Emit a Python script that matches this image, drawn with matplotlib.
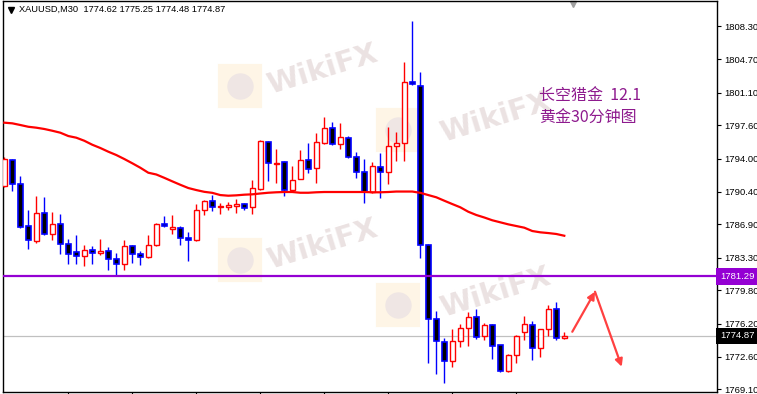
import numpy as np
import matplotlib
matplotlib.use('Agg')
import matplotlib.pyplot as plt

# XAUUSD M30 bars
opens = [1791.04, 1793.84, 1791.25, 1786.72, 1785.10, 1788.12, 1785.86, 1786.94, 1784.78, 1783.91,
         1783.48, 1784.13, 1783.81, 1784.02, 1783.16, 1782.62, 1784.56, 1783.70, 1783.37, 1784.67,
         1786.94, 1786.45, 1786.50, 1785.42, 1785.21, 1788.45, 1789.42, 1788.74, 1788.80, 1788.85,
         1789.09, 1788.77, 1790.71, 1795.78, 1793.46, 1793.63, 1790.60, 1791.79, 1793.84, 1792.98,
         1795.68, 1797.29, 1795.57, 1796.21, 1794.17, 1792.55, 1790.39, 1793.09, 1792.55, 1795.35,
         1795.68, 1802.26, 1801.83, 1784.67, 1776.68, 1774.20, 1772.15, 1774.31, 1775.71, 1776.90,
         1774.85, 1776.04, 1773.88, 1771.07, 1772.80, 1775.28, 1776.04, 1773.56, 1775.61, 1777.76,
         1774.62]
highs = [1794.17, 1793.95, 1792.11, 1788.45, 1789.96, 1789.85, 1788.23, 1788.01, 1785.32, 1785.75,
         1784.67, 1784.56, 1785.32, 1784.45, 1783.81, 1785.21, 1784.67, 1784.02, 1785.75, 1787.00,
         1787.80, 1787.91, 1786.72, 1786.07, 1789.09, 1789.53, 1790.06, 1789.20, 1789.31, 1789.63,
         1789.20, 1791.68, 1796.00, 1795.89, 1795.03, 1793.70, 1793.19, 1794.92, 1795.68, 1796.75,
         1798.48, 1797.94, 1797.83, 1796.43, 1794.70, 1793.95, 1793.63, 1794.60, 1797.40, 1796.86,
         1804.42, 1808.84, 1803.34, 1784.78, 1777.55, 1774.63, 1775.61, 1776.15, 1777.44, 1777.76,
         1776.25, 1776.10, 1773.93, 1772.91, 1774.96, 1777.01, 1776.47, 1775.65, 1778.20, 1778.52,
         1775.25]
lows = [1790.93, 1790.50, 1786.55, 1784.24, 1784.89, 1785.80, 1785.21, 1783.70, 1782.62, 1782.62,
        1782.40, 1782.62, 1783.59, 1781.97, 1781.30, 1781.97, 1782.73, 1782.51, 1783.30, 1784.60,
        1786.61, 1785.86, 1784.67, 1782.94, 1785.10, 1787.91, 1788.34, 1788.01, 1788.45, 1788.12,
        1788.45, 1788.01, 1790.66, 1791.58, 1791.36, 1789.96, 1790.39, 1791.74, 1792.44, 1791.36,
        1795.57, 1795.51, 1795.03, 1794.06, 1791.90, 1789.20, 1790.33, 1789.74, 1791.25, 1793.73,
        1793.73, 1801.99, 1783.27, 1771.94, 1770.75, 1769.78, 1771.51, 1773.66, 1773.77, 1774.53,
        1774.42, 1772.37, 1770.97, 1770.97, 1771.94, 1774.42, 1772.26, 1772.58, 1774.85, 1774.42,
        1774.48]
closes = [1793.95, 1791.25, 1786.61, 1785.21, 1788.12, 1785.86, 1786.94, 1784.78, 1783.70, 1783.48,
          1784.13, 1783.81, 1784.02, 1783.16, 1782.62, 1784.56, 1783.70, 1783.37, 1784.67, 1786.94,
          1786.72, 1786.61, 1785.42, 1785.21, 1788.45, 1789.42, 1788.77, 1788.88, 1788.99, 1789.09,
          1788.69, 1790.82, 1795.89, 1793.52, 1793.52, 1790.60, 1791.68, 1793.84, 1792.87, 1795.78,
          1797.29, 1795.57, 1796.32, 1794.17, 1792.55, 1790.39, 1793.19, 1792.55, 1795.35, 1795.68,
          1802.26, 1802.04, 1784.67, 1776.68, 1774.31, 1772.15, 1774.31, 1775.71, 1776.90, 1774.74,
          1776.04, 1773.77, 1771.07, 1772.80, 1774.85, 1776.15, 1773.56, 1775.61, 1777.76, 1774.63,
          1774.87]
# moving average line
ma = [1797.87, 1797.80, 1797.62, 1797.43, 1797.33, 1797.19, 1797.00, 1796.79, 1796.43, 1796.25,
      1795.92, 1795.49, 1795.14, 1794.74, 1794.38, 1793.95, 1793.49, 1793.01, 1792.47, 1792.28,
      1791.92, 1791.54, 1791.17, 1790.82, 1790.60, 1790.41, 1790.30, 1790.06, 1789.99, 1790.03,
      1790.10, 1790.14, 1790.23, 1790.31, 1790.36, 1790.39, 1790.39, 1790.31, 1790.31, 1790.36,
      1790.39, 1790.39, 1790.39, 1790.39, 1790.39, 1790.39, 1790.36, 1790.36, 1790.39, 1790.44,
      1790.44, 1790.44, 1790.30, 1790.06, 1789.82, 1789.45, 1789.09, 1788.74, 1788.26, 1787.91,
      1787.64, 1787.34, 1787.12, 1786.90, 1786.72, 1786.54, 1786.18, 1786.04, 1785.96, 1785.86,
      1785.67]

level = 1781.29
bid = 1774.87
yticks = [1808.30, 1804.70, 1801.10, 1797.60, 1794.00, 1790.40,
          1786.90, 1783.30, 1779.80, 1776.20, 1772.60, 1769.10]
xticks = [8, 16, 24, 32, 40, 48, 56, 64]
header = 'XAUUSD,M30  1774.62 1775.25 1774.48 1774.87'
note1 = '长空猎金  12.1'
note2 = '黄金30分钟图'
# arrow path (bar index, price): up then down
arrow_x = [71.0, 73.84, 77.18]
arrow_y = [1775.31, 1779.63, 1771.54]

W, H = 757, 394
fig = plt.figure(figsize=(W / 100, H / 100), dpi=100)
fig.patch.set_facecolor('white')
ax = fig.add_axes([3.3 / W, 2 / H, (717 - 3.3) / W, 391 / H])
ax.set_xlim(-0.125, 89.09)
ax.set_ylim(1768.81, 1811.0)

# watermarks
for lx, ly, tx, ty in [(0.3317, 0.7826, 0.4466, 0.8235), (0.5531, 0.6701, 0.689, 0.7008),
                       (0.3317, 0.3376, 0.4466, 0.3760), (0.5531, 0.2225, 0.689, 0.2532)]:
    ax.plot(lx, ly, marker='s', ms=29, mfc='#FEF5E6', mec='#FEF5E6', mew=3,
            transform=ax.transAxes, zorder=0.5)
    ax.plot(lx, ly, marker='o', ms=19, mfc='#EFE6E4', mec='none', transform=ax.transAxes, zorder=0.6)
    ax.text(tx, ty, 'WikiFX', transform=ax.transAxes, fontsize=21, fontweight='bold',
            color='#EBE2E2', rotation=17, ha='center', va='center', zorder=0.6)

ax.axhline(bid, color='#C0C0C0', lw=0.9, zorder=1)

idx = np.arange(len(opens))
o = np.array(opens); c = np.array(closes)
hi = np.array(highs); lo = np.array(lows)
up = c >= o
wick_col = np.where(up, '#FF0000', '#0000FF')
ax.vlines(idx, lo, hi, colors=wick_col, lw=1.0, zorder=2)
bottom = np.minimum(o, c)
height = np.maximum(np.abs(c - o), 0.05)
ax.bar(idx[up], height[up], bottom=bottom[up], width=0.6, facecolor='white',
       edgecolor='#FF0000', linewidth=1.0, zorder=3)
ax.bar(idx[~up], height[~up], bottom=bottom[~up], width=0.6, facecolor='black',
       edgecolor='#0000FF', linewidth=1.2, zorder=3)

ax.plot(idx, ma, color='#FF0000', lw=1.6, zorder=3.5)
ax.axhline(level, color='#9400D3', lw=1.6, zorder=4)

# axes styling
for s in ax.spines.values():
    s.set_color('black')
    s.set_linewidth(1.0)
ax.yaxis.tick_right()
ax.set_yticks(yticks)
ax.set_yticklabels(['%.2f' % v for v in yticks])
ax.set_xticks(xticks)
ax.set_xticklabels([])
ax.tick_params(axis='y', direction='out', length=3, width=0.8, pad=2, labelsize=6.8,
               labelfontfamily='Liberation Sans')
ax.tick_params(axis='x', direction='out', length=3, width=0.8)

# price tags on the right axis
for val, bg in [(level, '#9400D3'), (bid, 'black')]:
    ax.text(1.004, val, '%.2f' % val, transform=ax.get_yaxis_transform(), ha='left', va='center',
            fontsize=6.8, family='Liberation Sans', color='white', clip_on=False,
            bbox=dict(boxstyle='square,pad=0.4', fc=bg, ec='none'))

# header
ax.plot(0.0101, 0.978, marker='v', ms=4, color='black', transform=ax.transAxes, clip_on=False)
ax.text(0.022, 0.9795, header, transform=ax.transAxes, ha='left', va='center',
        fontsize=6.7, family='Liberation Sans', color='black')
ax.plot(0.7978, 0.993, marker='v', ms=5, color='#A0A0A0', transform=ax.transAxes, clip_on=False)

# notes
ax.text(0.7506, 0.757, note1, transform=ax.transAxes, ha='left', va='center', fontsize=11.5,
        family=['Noto Sans CJK SC', 'DejaVu Sans'], color='#8E1A8E')
ax.text(0.7506, 0.7008, note2, transform=ax.transAxes, ha='left', va='center', fontsize=11.5,
        family=['Noto Sans CJK SC', 'DejaVu Sans'], color='#8E1A8E')

# arrows
for k in range(2):
    ax.annotate('', xy=(arrow_x[k + 1], arrow_y[k + 1]), xytext=(arrow_x[k], arrow_y[k]),
                arrowprops=dict(arrowstyle='-|>', color='#FF4040', lw=1.6, mutation_scale=11,
                                shrinkA=0, shrinkB=0), zorder=5)

fig.savefig('out.png', dpi=100)
